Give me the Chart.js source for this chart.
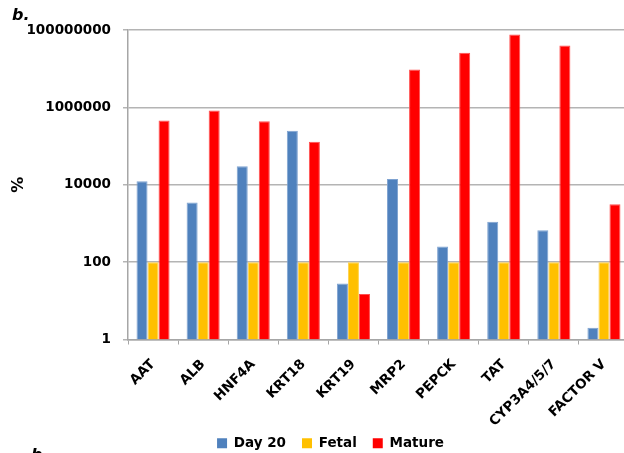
<!DOCTYPE html>
<html>
<head>
<meta charset="utf-8">
<script src="https://cdn.jsdelivr.net/npm/chart.js@4/dist/chart.umd.min.js"></script>
<style>
  html, body { margin: 0; padding: 0; background: #fff; overflow: hidden; }
  #wrap { width: 624px; height: 453px; overflow: hidden; position: relative; }
  canvas { display: block; }
</style>
</head>
<body>
<div id="wrap"><canvas id="c" width="661" height="474"></canvas></div>
<script>
// Gene expression relative to fetal liver (fetal = 100%)
const genes = ['AAT', 'ALB', 'HNF4A', 'KRT18', 'KRT19', 'MRP2', 'PEPCK', 'TAT', 'CYP3A4/5/7', 'FACTOR V'];
const day20 = [12300, 3500, 30000, 250000, 28, 14000, 255, 1100, 670, 2];
const fetal = [100, 100, 100, 100, 100, 100, 100, 100, 100, 100];
const mature = [460000, 830000, 440000, 130000, 15, 9500000, 26000000, 76000000, 40000000, 3150];
const yTicks = [1, 100, 10000, 1000000, 100000000];

const FONT = 'DejaVu Sans, sans-serif';

// Panel letter drawn in the top-left corner (and the next panel's, cut off at the bottom)
const panelLetter = {
  id: 'panelLetter',
  afterDraw(chart) {
    const ctx = chart.ctx;
    ctx.save();
    ctx.fillStyle = '#000';
    ctx.font = 'italic bold 16px ' + FONT;
    ctx.textBaseline = 'alphabetic';
    ctx.fillText('b.', 12, 20);
    ctx.fillText('b.', 31, 460);
    ctx.restore();
  }
};

// Tuck the legend up under the rotated labels and centre it under the figure
const legendNudge = {
  id: 'legendNudge',
  afterLayout(chart) {
    const lg = chart.legend;
    if (!lg) return;
    lg.left += 16; lg.right += 16;
    lg.top -= 14; lg.bottom -= 14;
  }
};

new Chart(document.getElementById('c'), {
  type: 'bar',
  data: {
    labels: genes,
    datasets: [
      { label: 'Day 20', data: day20, backgroundColor: '#4f81bd', borderColor: '#7fa3d1', borderWidth: 1 },
      { label: 'Fetal', data: fetal, backgroundColor: '#ffc000', borderColor: '#ffd34d', borderWidth: 1 },
      { label: 'Mature', data: mature, backgroundColor: '#ff0000', borderColor: '#ff5050', borderWidth: 1 }
    ]
  },
  options: {
    responsive: false,
    animation: false,
    devicePixelRatio: 1,
    layout: { padding: { top: 30, right: 32, left: 0, bottom: 0 } },
    datasets: { bar: { categoryPercentage: 0.66, barPercentage: 1.0 } },
    plugins: {
      legend: {
        position: 'bottom',
        labels: {
          boxWidth: 10,
          boxHeight: 10,
          padding: 16,
          color: '#000',
          font: { family: FONT, size: 13.5, weight: 'bold' },
          generateLabels(chart) {
            return chart.data.datasets.map((ds, i) => ({
              text: ds.label,
              fillStyle: ds.backgroundColor,
              strokeStyle: ds.backgroundColor,
              lineWidth: 0,
              fontColor: '#000',
              hidden: false,
              datasetIndex: i
            }));
          }
        }
      },
      tooltip: { enabled: false }
    },
    scales: {
      x: {
        grid: { display: true, drawOnChartArea: false, drawTicks: true, tickLength: 5, color: '#a6a6a6', offset: true },
        border: { color: '#a6a6a6', width: 1.5 },
        ticks: {
          color: '#000',
          maxRotation: 45,
          minRotation: 45,
          padding: 12,
          autoSkip: false,
          font: { family: FONT, size: 13.5, weight: 'bold' }
        },
        afterFit(scale) { scale.height = 95; }
      },
      y: {
        type: 'logarithmic',
        min: 1,
        max: 100000000,
        afterBuildTicks(scale) { scale.ticks = yTicks.map(v => ({ value: v })); },
        grid: { color: '#b4b4b4', lineWidth: 1.5, tickLength: 5 },
        border: { color: '#a6a6a6', width: 1.5 },
        ticks: {
          color: '#000',
          padding: 12,
          font: { family: FONT, size: 13.5, weight: 'bold' },
          callback: (v) => String(v)
        },
        title: {
          display: true,
          text: '%',
          color: '#000',
          padding: { top: 9, bottom: 0 },
          font: { family: FONT, size: 16, weight: 'bold' }
        },
        afterFit(scale) { scale.width = 128; }
      }
    }
  },
  plugins: [panelLetter, legendNudge]
});
</script>
</body>
</html>
